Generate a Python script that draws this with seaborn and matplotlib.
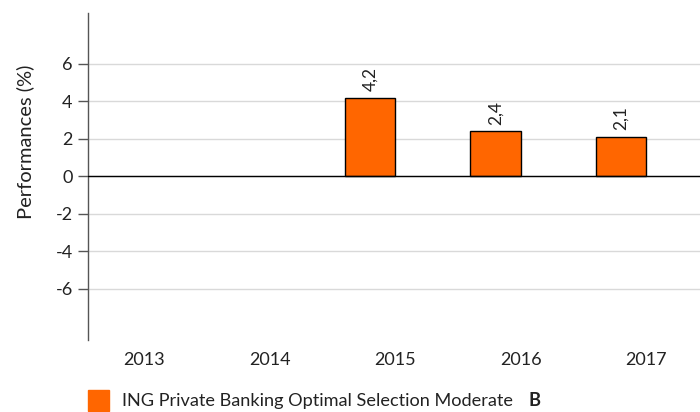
import seaborn as sns
import matplotlib.pyplot as plt
import matplotlib.patches as mpatches
import pandas as pd

years = ["2013", "2014", "2015", "2016", "2017"]
performance = [None, None, 4.2, 2.4, 2.1]
value_labels = ["4,2", "2,4", "2,1"]
series_name = "ING Private Banking Optimal Selection Moderate"
share_class = "B"

df = pd.DataFrame({"year": years, "perf": performance})

sns.set_style("white")
plt.rcParams["font.family"] = ["Lato", "DejaVu Sans"]
plt.rcParams["axes.unicode_minus"] = False
text_col = "#222222"

fig = plt.figure(figsize=(7, 4.12), dpi=100)
ax = fig.add_axes([0.1257, 0.1748, 0.8743, 0.7937])

sns.barplot(data=df, x="year", y="perf", order=years, color="#FF6600",
            width=0.4, edgecolor="black", linewidth=1, saturation=1, ax=ax, zorder=3)
ax.bar_label(ax.containers[0], labels=value_labels, rotation=90, padding=5,
             fontsize=12.5, color=text_col)

ax.set_ylim(-8.72, 8.72)
ax.set_xlim(-0.247, 4.63)
ax.set_yticks([-6, -4, -2, 0, 2, 4, 6])
ax.grid(axis="y", color="#d9d9d9", linewidth=1, zorder=0)
ax.axhline(0, color="black", linewidth=1, zorder=4)

# bars sit in the left half of each year slot, so labels are shifted right
ax.set_xticks([i + 0.2 for i in range(len(years))], labels=years)
ax.tick_params(axis="x", length=0, pad=9, labelsize=13, labelcolor=text_col)
ax.tick_params(axis="y", length=7, width=1, color="#555555", direction="out",
               pad=4, labelsize=13, labelcolor=text_col, left=True)

for s in ["top", "right", "bottom"]:
    ax.spines[s].set_visible(False)
ax.spines["left"].set_color("#555555")
ax.spines["left"].set_linewidth(1)

ax.set_xlabel("")
ax.set_ylabel("Performances (%)", fontsize=14.5, color=text_col)
ax.yaxis.set_label_coords(-0.088, 0.606)

# legend: orange square with series name and bold share class
fig.patches.append(mpatches.Rectangle((88 / 700, 1 / 412), 21 / 700, 21 / 412,
                                      transform=fig.transFigure, color="#FF6600"))
leg = fig.text(122 / 700, 11 / 412, series_name, fontsize=13.1, color=text_col,
               va="center", ha="left")
fig.canvas.draw()
bb = leg.get_window_extent()
fig.text((bb.x1 + 16) / 700, 11 / 412, share_class, fontsize=13.1, color=text_col,
         fontweight="bold", va="center", ha="left")

fig.savefig("out.png", dpi=100)
